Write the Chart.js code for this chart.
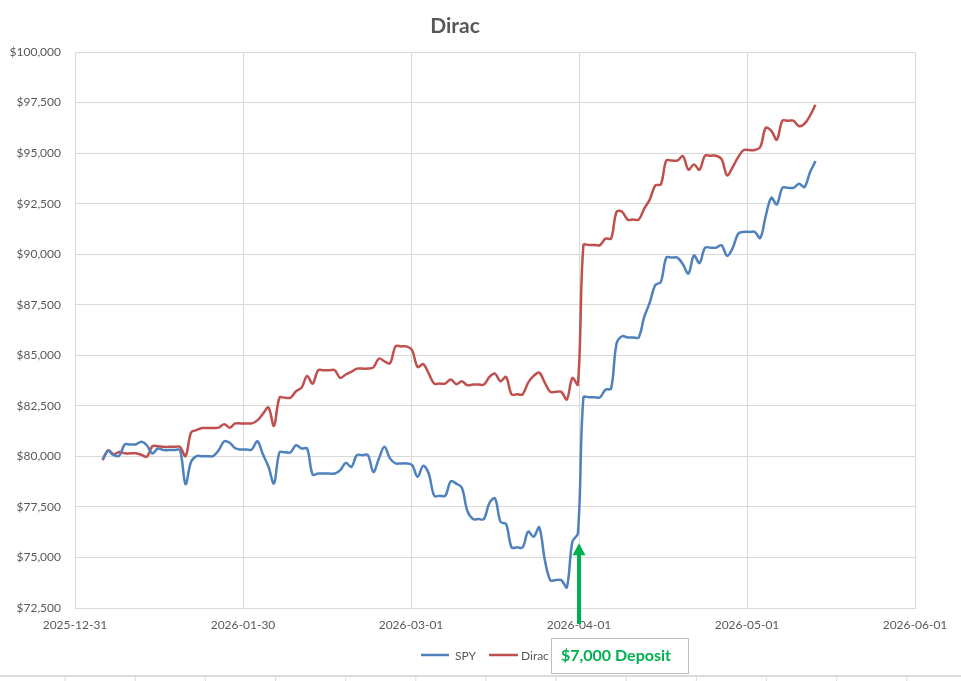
<!DOCTYPE html>
<html>
<head>
<meta charset="utf-8">
<title>Dirac</title>
<script src="https://cdn.jsdelivr.net/npm/chart.js@4.4.1/dist/chart.umd.min.js"></script>
<style>
    body { margin: 0; background: #fff; }
    #wrap { position: relative; width: 961px; height: 681px; }
    #cells {
        position: absolute; left: 0; top: 675px; width: 961px; height: 6px;
        border-top: 2px solid #dadada;
        background-image: linear-gradient(to right, #dadada 1px, transparent 1px);
        background-size: 70.15px 100%;
        background-position: 64.6px 0;
    }
</style>
</head>
<body>
<div id="wrap">
    <canvas id="lineChart" width="961" height="681"></canvas>
    <div id="cells"></div>
</div>
<script>
// one value per calendar day, first day 2026-01-05 (days counted from 2025-12-31)
var startDay = 5;
var axisDays = 152;
var tickLabels = ['2025-12-31', '2026-01-30', '2026-03-01', '2026-04-01', '2026-05-01', '2026-06-01'];

var spy = [
    79850, 80270, 80060, 80020, 80590, 80590, 80590,
    80720, 80550, 80140, 80390, 80310, 80310, 80310,
    80310, 78630, 79730, 80010, 80010, 80010, 80010,
    80300, 80750, 80670, 80400, 80340, 80340, 80340,
    80750, 80100, 79500, 78660, 80200, 80200, 80200,
    80550, 80390, 80390, 79100, 79150, 79150, 79150,
    79150, 79320, 79680, 79480, 80060, 80060, 80060,
    79230, 79900, 80470, 79900, 79650, 79650, 79650,
    79570, 78990, 79530, 79150, 78050, 78050, 78050,
    78770, 78650, 78450, 77300, 76900, 76900, 76900,
    77700, 77920, 76760, 76650, 75500, 75500, 75500,
    76280, 76020, 76490, 74900, 73880, 73880, 73880,
    73520, 75780, 76190, 82920, 82920, 82920, 82920,
    83300, 83350, 85580, 85940, 85880, 85880, 85880,
    86900, 87600, 88470, 88620, 89830, 89830, 89830,
    89500, 89040, 89940, 89560, 90320, 90320, 90320,
    90440, 89920, 90300, 91010, 91100, 91100, 91100,
    90800, 91900, 92790, 92460, 93280, 93280, 93280,
    93480, 93320, 94050, 94610
];

var dirac = [
    79810, 80300, 80100, 80220, 80150, 80150, 80150,
    80080, 79980, 80500, 80500, 80470, 80470, 80470,
    80470, 80010, 81180, 81300, 81400, 81400, 81400,
    81420, 81590, 81420, 81630, 81630, 81630, 81630,
    81780, 82100, 82420, 81510, 82900, 82900, 82900,
    83220, 83400, 83980, 83600, 84260, 84260, 84260,
    84260, 83880, 84050, 84180, 84340, 84340, 84340,
    84400, 84840, 84700, 84600, 85440, 85440, 85440,
    85250, 84420, 84560, 84100, 83600, 83600, 83600,
    83800, 83570, 83710, 83520, 83550, 83550, 83550,
    83930, 84090, 83710, 83930, 83070, 83070, 83070,
    83650, 83980, 84140, 83650, 83190, 83190, 83190,
    82810, 83880, 83550, 90450, 90450, 90450, 90450,
    90770, 90770, 92100, 92100, 91710, 91710, 91710,
    92250, 92700, 93400, 93450, 94630, 94630, 94630,
    94850, 94180, 94440, 94180, 94870, 94870, 94870,
    94700, 93900, 94300, 94800, 95150, 95150, 95150,
    95300, 96250, 96100, 95660, 96600, 96600, 96600,
    96330, 96450, 96850, 97390
];

var depositText = '$7,000 Deposit';
var depositTick = 3;      // arrow sits on the 2026-04-01 gridline
var depositValue = 75700; // arrow tip

var FONT = 'Lato, "Open Sans", sans-serif';
var GREY = '#595959';

function toPoints(values) {
    return values.map(function (v, i) { return { x: startDay + i, y: v }; });
}

function money(v) {
    return '$' + Number(v).toLocaleString('en-US');
}

var extras = {
    id: 'extras',
    afterDraw: function (chart) {
        var ctx = chart.ctx;
        var xs = chart.scales.x, ys = chart.scales.y;
        ctx.save();

        // title
        ctx.fillStyle = GREY;
        ctx.font = 'bold 21px ' + FONT;
        ctx.textAlign = 'center';
        ctx.textBaseline = 'alphabetic';
        ctx.fillText('Dirac', 455, 33);

        // arrow
        var ax = xs.getPixelForValue(depositTick * axisDays / (tickLabels.length - 1));
        var tip = ys.getPixelForValue(depositValue);
        ctx.fillStyle = '#00B050';
        ctx.fillRect(ax - 2, tip + 9, 4, 624 - tip - 9);
        ctx.beginPath();
        ctx.moveTo(ax, tip);
        ctx.lineTo(ax + 6.5, tip + 12);
        ctx.lineTo(ax - 6.5, tip + 12);
        ctx.closePath();
        ctx.fill();

        // legend
        ctx.textAlign = 'left';
        ctx.font = '12px ' + FONT;
        var items = [[421, 449, 455], [489, 518, 521]];
        chart.data.datasets.forEach(function (ds, i) {
            var it = items[i];
            ctx.strokeStyle = ds.borderColor;
            ctx.lineWidth = 2.5;
            ctx.beginPath();
            ctx.moveTo(it[0], 655);
            ctx.lineTo(it[1], 655);
            ctx.stroke();
            ctx.fillStyle = GREY;
            ctx.fillText(ds.label, it[2], 659.5);
        });

        // deposit box
        ctx.fillStyle = '#fff';
        ctx.fillRect(551, 638, 137, 35);
        ctx.strokeStyle = '#bfbfbf';
        ctx.lineWidth = 1;
        ctx.strokeRect(551.5, 638.5, 137, 35);
        ctx.fillStyle = '#00B050';
        ctx.font = 'bold 16px ' + FONT;
        ctx.fillText(depositText, 561, 661);

        ctx.restore();
    }
};

var ctxL = document.getElementById('lineChart').getContext('2d');
var myLineChart = new Chart(ctxL, {
    type: 'line',
    data: {
        datasets: [{
            label: 'SPY',
            data: toPoints(spy),
            borderColor: '#4F81BD',
            borderWidth: 2.5,
            pointRadius: 0,
            tension: 0.35,
            fill: false
        }, {
            label: 'Dirac',
            data: toPoints(dirac),
            borderColor: '#C0504D',
            borderWidth: 2.5,
            pointRadius: 0,
            tension: 0.35,
            fill: false
        }]
    },
    options: {
        responsive: false,
        animation: false,
        layout: { padding: { left: 0, right: 46, top: 52, bottom: 0 } },
        plugins: {
            legend: { display: false },
            title: { display: false },
            tooltip: { enabled: false }
        },
        scales: {
            x: {
                type: 'linear',
                min: 0,
                max: axisDays,
                afterBuildTicks: function (scale) {
                    scale.ticks = tickLabels.map(function (l, i) {
                        return { value: i * axisDays / (tickLabels.length - 1) };
                    });
                },
                afterFit: function (scale) { scale.height = 73; },
                grid: { color: '#d9d9d9', drawTicks: false },
                border: { color: '#d9d9d9' },
                ticks: {
                    autoSkip: false,
                    maxRotation: 0,
                    padding: 10,
                    color: GREY,
                    font: { family: FONT, size: 12 },
                    callback: function (v, i) { return tickLabels[i]; }
                }
            },
            y: {
                min: 72500,
                max: 100000,
                afterFit: function (scale) { scale.width = 75; },
                grid: { color: '#d9d9d9', drawTicks: false },
                border: { display: false },
                ticks: {
                    stepSize: 2500,
                    padding: 14,
                    color: GREY,
                    font: { family: FONT, size: 12 },
                    callback: function (v) { return money(v); }
                }
            }
        }
    },
    plugins: [extras]
});
</script>
</body>
</html>
